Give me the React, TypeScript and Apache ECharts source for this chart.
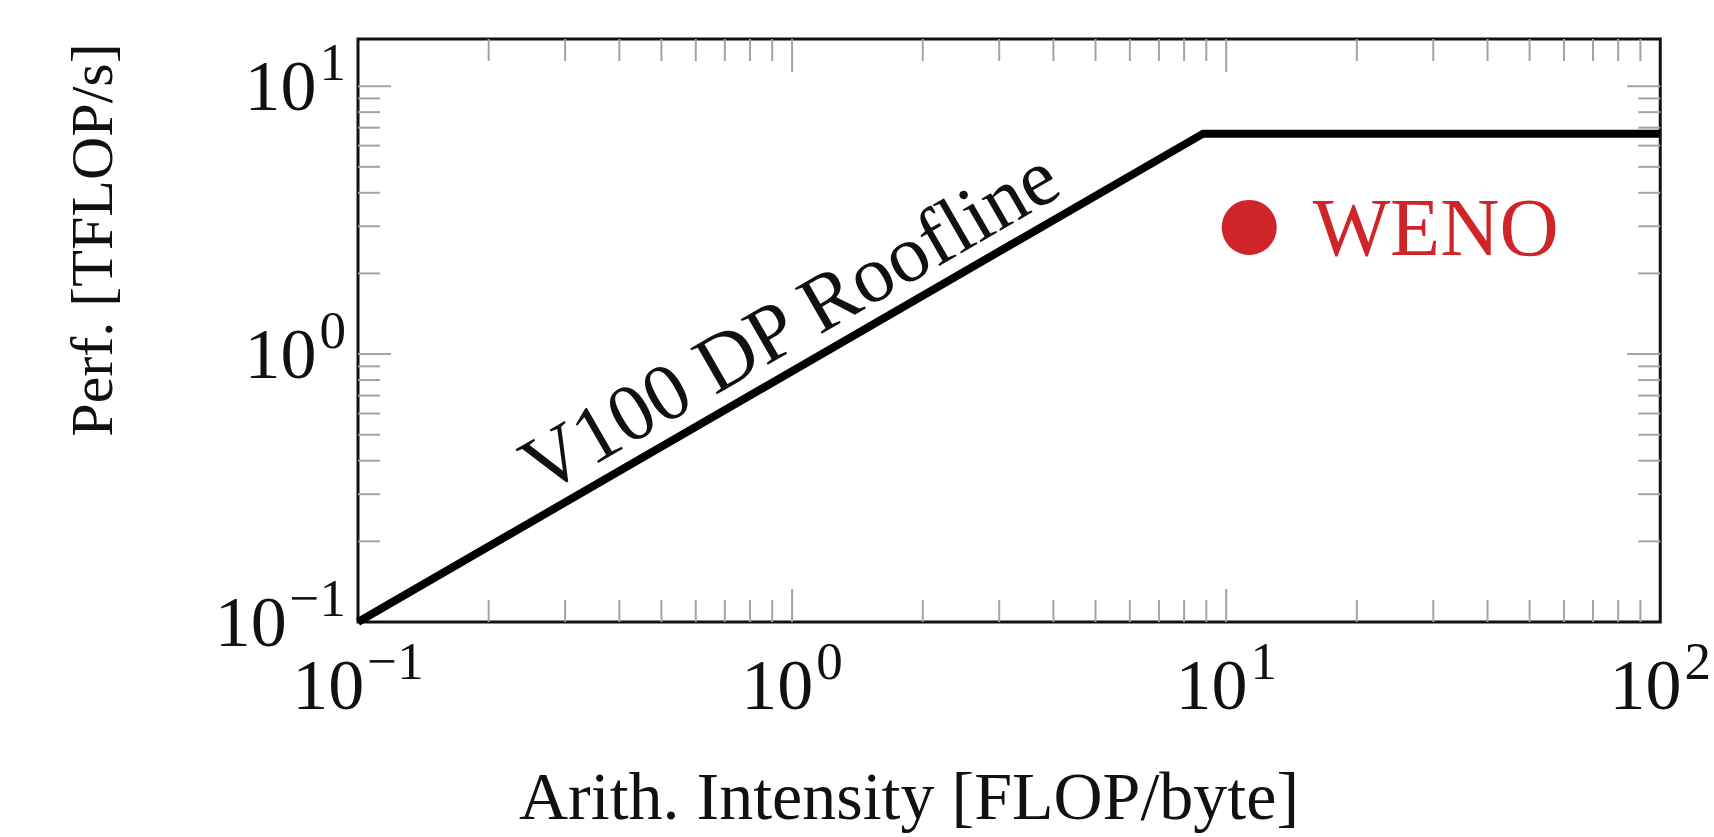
import React, { useEffect, useRef } from "react";
import * as echarts from "echarts";

const FONT = '"Liberation Serif", "DejaVu Serif", serif';
const BLACK = "#111111";
const TICK = "#a3a3a3";
const RED = "#cf2528";

const xRange = [0.1, 100];
const yRange = [0.1, 15];
const xMajor = [1, 10];
const xMinor = [0.2, 0.3, 0.4, 0.5, 0.6, 0.7, 0.8, 0.9, 2, 3, 4, 5, 6, 7, 8, 9, 20, 30, 40, 50, 60, 70, 80, 90];
const yMajor = [1, 10];
const yMinor = [0.2, 0.3, 0.4, 0.5, 0.6, 0.7, 0.8, 0.9, 2, 3, 4, 5, 6, 7, 8, 9];

const rooflineAI = [0.1, 8.85, 100];
const rooflinePerf = [0.1, 6.65, 6.65];
const rooflineText = "V100 DP Roofline";
const rooflineTextAt = [1.11, 0.953];

const wenoName = "WENO";
const wenoAI = [11.3];
const wenoPerf = [2.97];

const xTitle = "Arith. Intensity [FLOP/byte]";
const yTitle = "Perf. [TFLOP/s]";

function powLabel(v: number): string {
  const e = Math.log10(v);
  const r = Math.round(e);
  if (Math.abs(e - r) > 1e-6) return "";
  const s = r < 0 ? "\u2212" + Math.abs(r) : String(r);
  return "{b|10}{s|" + s + "}";
}

const richLabel = {
  b: { fontSize: 72, fontFamily: FONT, color: BLACK, lineHeight: 72, verticalAlign: "bottom" },
  s: { fontSize: 53, fontFamily: FONT, color: BLACK, lineHeight: 53, verticalAlign: "bottom", padding: [0, 0, 34, 3] },
};

export default function App() {
  const ref = useRef<HTMLDivElement>(null);
  useEffect(() => {
    if (!ref.current) return;
    const chart = echarts.init(ref.current, null, { renderer: "svg" });

    const xTickData = [
      ...xMajor.map((v) => [v, yRange[0], 1]),
      ...xMinor.map((v) => [v, yRange[0], 0]),
    ];
    const yTickData = [
      ...yMajor.map((v) => [xRange[0], v, 1]),
      ...yMinor.map((v) => [xRange[0], v, 0]),
    ];

    const option: any = {
      animation: false,
      backgroundColor: "#ffffff",
      grid: {
        left: 358,
        top: 39,
        right: 51,
        bottom: 215,
        show: true,
        borderColor: BLACK,
        borderWidth: 3,
        backgroundColor: "transparent",
      },
      xAxis: {
        type: "log",
        logBase: 10,
        min: xRange[0],
        max: xRange[1],
        axisLine: { show: false },
        axisTick: { show: false },
        splitLine: { show: false },
        minorTick: { show: false },
        axisLabel: {
          formatter: powLabel,
          margin: 27,
          rich: richLabel,
          showMinLabel: true,
          showMaxLabel: true,
        },
      },
      yAxis: {
        type: "log",
        logBase: 10,
        min: yRange[0],
        max: yRange[1],
        axisLine: { show: false },
        axisTick: { show: false },
        splitLine: { show: false },
        minorTick: { show: false },
        axisLabel: {
          formatter: powLabel,
          margin: 12,
          rich: richLabel,
          showMinLabel: true,
        },
      },
      graphic: [
        {
          type: "text",
          x: 909,
          y: 796,
          style: {
            text: xTitle,
            font: `68px ${FONT}`,
            fill: BLACK,
            align: "center",
            textAlign: "center",
            verticalAlign: "middle",
            textVerticalAlign: "middle",
          },
        },
        {
          type: "text",
          x: 92,
          y: 240,
          rotation: Math.PI / 2,
          style: {
            text: yTitle,
            font: `60px ${FONT}`,
            fill: BLACK,
            align: "center",
            textAlign: "center",
            verticalAlign: "middle",
            textVerticalAlign: "middle",
          },
        },
      ],
      series: [
        {
          type: "custom",
          name: "xticks",
          silent: true,
          data: xTickData,
          renderItem: (params: any, api: any) => {
            const v = api.value(0);
            const len = api.value(2) === 1 ? 33 : 22;
            const b = api.coord([v, yRange[0]]);
            const t = api.coord([v, yRange[1]]);
            const style = { stroke: TICK, lineWidth: 2 };
            return {
              type: "group",
              children: [
                { type: "line", shape: { x1: b[0], y1: b[1], x2: b[0], y2: b[1] - len }, style },
                { type: "line", shape: { x1: t[0], y1: t[1], x2: t[0], y2: t[1] + len }, style },
              ],
            };
          },
        },
        {
          type: "custom",
          name: "yticks",
          silent: true,
          data: yTickData,
          renderItem: (params: any, api: any) => {
            const v = api.value(1);
            const len = api.value(2) === 1 ? 33 : 22;
            const l = api.coord([xRange[0], v]);
            const r = api.coord([xRange[1], v]);
            const style = { stroke: TICK, lineWidth: 2 };
            return {
              type: "group",
              children: [
                { type: "line", shape: { x1: l[0], y1: l[1], x2: l[0] + len, y2: l[1] }, style },
                { type: "line", shape: { x1: r[0], y1: r[1], x2: r[0] - len, y2: r[1] }, style },
              ],
            };
          },
        },
        {
          type: "line",
          name: "roofline",
          data: rooflineAI.map((x, i) => [x, rooflinePerf[i]]),
          showSymbol: false,
          symbol: "none",
          clip: false,
          lineStyle: { color: "#000000", width: 8, cap: "butt", join: "miter" },
          z: 5,
        },
        {
          type: "scatter",
          name: "rooflineLabel",
          data: [rooflineTextAt],
          symbolSize: 0,
          silent: true,
          itemStyle: { opacity: 1 },
          label: {
            show: true,
            position: "inside",
            formatter: rooflineText,
            rotate: 30,
            align: "center",
            verticalAlign: "bottom",
            fontSize: 81,
            fontFamily: FONT,
            color: BLACK,
            padding: [0, 0, 4, 0],
          },
          z: 6,
        },
        {
          type: "scatter",
          name: wenoName,
          data: wenoAI.map((x, i) => [x, wenoPerf[i]]),
          symbol: "circle",
          symbolSize: 55,
          itemStyle: { color: RED, opacity: 1 },
          label: {
            show: true,
            position: "right",
            distance: 36,
            formatter: wenoName,
            fontSize: 82,
            fontFamily: FONT,
            color: RED,
          },
          z: 6,
        },
      ],
    };
    chart.setOption(option);
    return () => chart.dispose();
  }, []);
  return (
    <div
      ref={ref}
      style={{ position: "fixed", left: 0, top: 0, width: 1714, height: 837, background: "#fff" }}
    />
  );
}
